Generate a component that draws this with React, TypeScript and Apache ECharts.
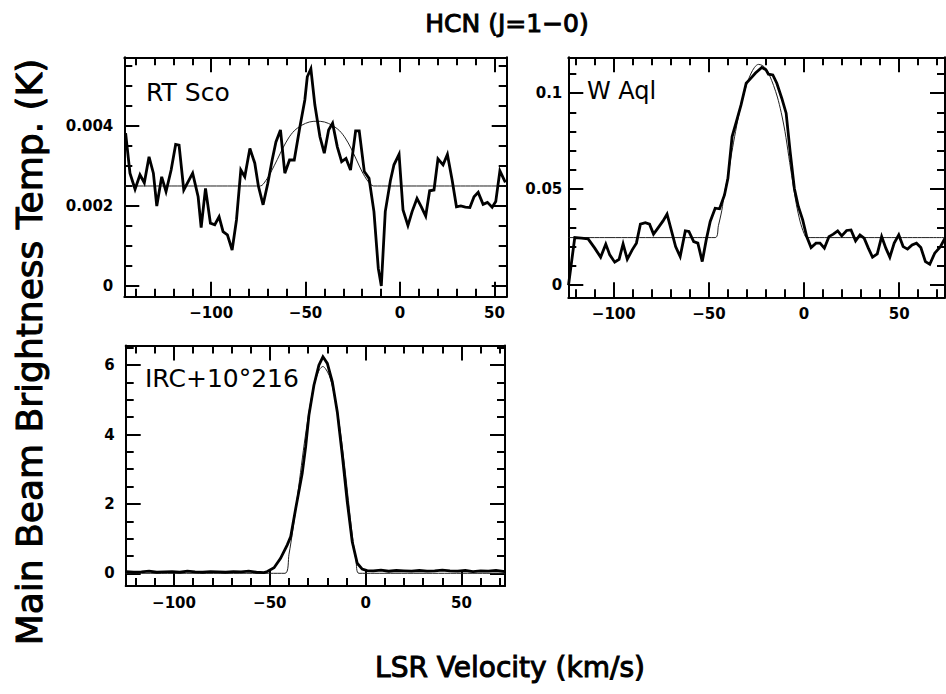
import React, { useEffect, useRef } from 'react';
import * as echarts from 'echarts';

// ---------- data ----------
const rtScoSpectrum: [number, number][] = [
  [-145.3, 0.00382], [-143.0, 0.00282], [-140.3, 0.00242], [-137.7, 0.00278], [-135.4, 0.00258],
  [-132.9, 0.00323], [-130.6, 0.00282], [-128.8, 0.002], [-126.2, 0.00273], [-123.9, 0.00236],
  [-121.2, 0.0029], [-118.8, 0.00354], [-117.0, 0.00352], [-114.5, 0.0024], [-109.8, 0.00282],
  [-106.9, 0.00223], [-105.3, 0.00146], [-103.0, 0.00244], [-100.4, 0.00157], [-98.1, 0.00153],
  [-95.8, 0.00173], [-93.7, 0.00136], [-91.4, 0.00128], [-88.9, 0.0009], [-86.6, 0.00165],
  [-84.3, 0.0029], [-82.2, 0.00273], [-79.5, 0.00344], [-76.9, 0.00307], [-75.0, 0.0025],
  [-72.5, 0.00203], [-70.0, 0.00257], [-67.7, 0.00315], [-65.7, 0.0036], [-63.3, 0.0039],
  [-61.0, 0.00282], [-58.5, 0.00315], [-56.0, 0.00315], [-53.0, 0.00398], [-50.4, 0.00465],
  [-49.1, 0.00523], [-47.2, 0.00543], [-45.1, 0.00453], [-42.4, 0.00373], [-40.1, 0.00332],
  [-37.8, 0.0039], [-35.7, 0.00407], [-33.2, 0.00348], [-30.9, 0.00311], [-28.6, 0.00319],
  [-26.2, 0.0029], [-23.5, 0.00388], [-21.6, 0.00388], [-18.9, 0.00286], [-16.4, 0.00269],
  [-13.8, 0.00186], [-11.5, 0.00044], [-9.9, 0.0], [-7.8, 0.00186], [-5.1, 0.00263],
  [-3.2, 0.00303], [-0.5, 0.00329], [1.6, 0.0019], [4.2, 0.00151], [6.4, 0.00186],
  [9.0, 0.00219], [11.3, 0.00198], [13.6, 0.00175], [15.7, 0.00238], [18.0, 0.0024],
  [20.1, 0.00318], [22.8, 0.00303], [25.1, 0.00329], [27.6, 0.00265], [29.9, 0.00198],
  [32.2, 0.002], [34.6, 0.00197], [37.0, 0.00196], [39.2, 0.00223], [41.4, 0.00234],
  [44.0, 0.00204], [46.3, 0.00209], [48.8, 0.00197], [50.7, 0.00211], [52.9, 0.00288],
  [55.8, 0.00259],
];
const rtScoFit: [number, number][] = [
  [-146, 0.0025], [-74, 0.0025], [-71, 0.00264], [-68, 0.00288], [-65, 0.00316], [-62, 0.00345],
  [-59, 0.0037], [-56, 0.00388], [-52, 0.00402], [-48, 0.0041], [-44, 0.00412], [-40, 0.0041],
  [-36, 0.00402], [-32, 0.00388], [-29, 0.0037], [-26, 0.00345], [-23, 0.00315], [-20, 0.00285],
  [-17, 0.00262], [-14, 0.0025], [56.6, 0.0025],
];

const wAqlSpectrum: [number, number][] = [
  [-123.8, 0], [-120.5, 0.0248], [-117.0, 0.0245], [-113.5, 0.0241], [-110.0, 0.0193], [-106.9, 0.0146],
  [-104.2, 0.0214], [-102.1, 0.0158], [-99.5, 0.012], [-97.2, 0.0135], [-95.1, 0.0215], [-92.9, 0.0135],
  [-90.3, 0.0184], [-88.1, 0.0219], [-86.0, 0.0318], [-83.4, 0.0326], [-81.2, 0.0318], [-79.1, 0.0266],
  [-76.8, 0.0297], [-74.1, 0.0335], [-72.0, 0.037], [-69.8, 0.0288], [-67.5, 0.0201], [-65.1, 0.0149],
  [-62.4, 0.0283], [-60.5, 0.028], [-58.0, 0.0227], [-55.8, 0.0219], [-53.5, 0.0123], [-51.4, 0.0236],
  [-49.3, 0.0332], [-46.7, 0.0401], [-44.4, 0.0398], [-41.8, 0.047], [-40.0, 0.0557], [-37.8, 0.0774],
  [-35.3, 0.0861], [-33.1, 0.0939], [-30.4, 0.1052], [-28.0, 0.1077], [-25.5, 0.1105], [-22.2, 0.1134],
  [-20.0, 0.1122], [-18.7, 0.1099], [-16.4, 0.1095], [-14.3, 0.1052], [-11.7, 0.0974], [-9.4, 0.0896],
  [-7.3, 0.0696], [-5.1, 0.0505], [-3.0, 0.041], [-0.7, 0.034], [1.4, 0.0253], [3.7, 0.0196],
  [6.3, 0.0219], [8.4, 0.0219], [10.7, 0.0193], [13.1, 0.0253], [15.4, 0.0266], [17.7, 0.0283],
  [19.8, 0.0257], [22.4, 0.0285], [24.7, 0.0288], [27.1, 0.0231], [29.4, 0.0262], [31.6, 0.0245],
  [33.8, 0.0193], [36.0, 0.0146], [38.5, 0.0163], [40.8, 0.0253], [43.0, 0.0193], [45.1, 0.0146],
  [47.4, 0.0219], [49.8, 0.0262], [52.1, 0.0201], [54.4, 0.0188], [56.8, 0.021], [59.1, 0.0219],
  [61.4, 0.0196], [63.8, 0.0123], [66.1, 0.0109], [68.7, 0.0167], [71.7, 0.0201], [74.5, 0.0253],
];
const wAqlFit: [number, number][] = [
  [-123.9, 0.0248], [-46.7, 0.0248], [-45, 0.031], [-43.2, 0.039], [-42, 0.047], [-40, 0.057],
  [-38, 0.069], [-36, 0.08], [-34, 0.09], [-32, 0.098], [-30, 0.105], [-28, 0.11], [-26, 0.1135],
  [-24, 0.115], [-22, 0.1145], [-20, 0.1128], [-18, 0.109], [-16, 0.104], [-14, 0.098], [-12, 0.09],
  [-10, 0.08], [-8, 0.067], [-6, 0.054], [-4, 0.042], [-2, 0.033], [0, 0.027], [1.5, 0.0248],
  [74.5, 0.0248],
];

const ircSpectrum: [number, number][] = [
  [-125, 0.05], [-121, 0.03], [-117, 0.04], [-113, 0.06], [-109, 0.03], [-105, 0.04], [-101, 0.05],
  [-97, 0.03], [-93, 0.06], [-89, 0.04], [-85, 0.03], [-81, 0.05], [-77, 0.04], [-73, 0.03],
  [-69, 0.05], [-65, 0.04], [-61, 0.06], [-57, 0.03], [-53, 0.02], [-51.3, 0.05], [-47.8, 0.16],
  [-44.4, 0.43], [-40.9, 0.82], [-39.1, 1.06], [-36.5, 1.87], [-33.1, 2.88], [-31.3, 3.65],
  [-29.6, 4.56], [-27.0, 5.42], [-24.4, 6.0], [-22.3, 6.24], [-20.0, 6.05], [-17.4, 5.52],
  [-14.8, 4.65], [-12.2, 3.41], [-9.6, 2.06], [-7.0, 0.91], [-4.4, 0.29], [-1.8, 0.12], [0.8, 0.08],
  [4, 0.07], [8, 0.09], [12, 0.06], [16, 0.08], [20, 0.07], [24, 0.06], [28, 0.08], [32, 0.06],
  [36, 0.07], [40, 0.09], [44, 0.07], [48, 0.06], [52, 0.08], [56, 0.05], [60, 0.07], [64, 0.06],
  [68, 0.08], [72.7, 0.05],
];
const ircFit: [number, number][] = [
  [-125.2, 0], [-42.1, 0], [-40, 0.55], [-38, 1.25], [-36, 2.05], [-34, 2.9], [-32, 3.75], [-30, 4.5],
  [-28, 5.15], [-26, 5.6], [-24, 5.88], [-22.3, 5.96], [-21, 5.9], [-19, 5.7], [-17, 5.3], [-15, 4.75],
  [-13, 4.0], [-11, 3.1], [-9, 2.1], [-7, 1.1], [-5, 0.35], [-3.5, 0], [72.7, 0],
];

const velocityTicks = [-100, -50, 0, 50];
const rtScoYTicks = [0, 0.002, 0.004];
const wAqlYTicks = [0, 0.05, 0.1];
const ircYTicks = [0, 2, 4, 6];

const panelNames = ['RT Sco', 'W Aql', 'IRC+10\u00b0216'];
const chartTitle = 'HCN (J=1\u22120)';
const xTitle = 'LSR Velocity (km/s)';
const yTitle = 'Main Beam Brightness Temp. (K)';

// ---------- helpers ----------
function steps(a: number, b: number, s: number): number[] {
  const out: number[] = [];
  const n = Math.round((b - a) / s);
  for (let i = 0; i <= n; i++) out.push(Math.round((a + i * s) * 1e7) / 1e7);
  return out;
}
const fmt = (v: number) => (v < 0 ? '\u2212' + String(Math.abs(v)) : String(v));

interface Panel {
  grid: { left: number; top: number; width: number; height: number };
  x: [number, number];
  y: [number, number];
  xMajor: number[];
  xMinor: number[];
  yMajor: number[];
  yMinor: number[];
  yMargin: number;
  xMargin: number;
  spectrum: [number, number][];
  fit: [number, number][];
}

const panels: Panel[] = [
  {
    grid: { left: 124.3, top: 57.3, width: 382.4, height: 239.4 },
    x: [-146.0, 56.5], y: [-0.000268, 0.0057175],
    xMajor: velocityTicks, xMinor: steps(-140, 50, 10),
    yMajor: rtScoYTicks, yMinor: steps(0, 0.0055, 0.0005),
    yMargin: 11, xMargin: 9, spectrum: rtScoSpectrum, fit: rtScoFit,
  },
  {
    grid: { left: 568.3, top: 57.3, width: 376.7, height: 240 },
    x: [-123.9, 74.1], y: [-0.0063, 0.1187],
    xMajor: velocityTicks, xMinor: steps(-120, 70, 10),
    yMajor: wAqlYTicks, yMinor: steps(0, 0.11, 0.01),
    yMargin: 6, xMargin: 9, spectrum: wAqlSpectrum, fit: wAqlFit,
  },
  {
    grid: { left: 125.7, top: 345.5, width: 379.3, height: 240.5 },
    x: [-125.2, 72.7], y: [-0.366, 6.565],
    xMajor: velocityTicks, xMinor: steps(-120, 70, 10),
    yMajor: ircYTicks, yMinor: steps(0, 6.5, 0.5),
    yMargin: 11, xMargin: 9, spectrum: ircSpectrum, fit: ircFit,
  },
];

const FONT = 'DejaVu Sans';
const labelStyle = { color: '#000', fontFamily: FONT, fontWeight: 'bold' as const, fontSize: 15 };
const frameLine = { color: '#000', width: 2 };

function makeAxes(kind: 'x' | 'y', gi: number, p: Panel) {
  const range = kind === 'x' ? p.x : p.y;
  const major = kind === 'x' ? p.xMajor : p.yMajor;
  const minor = kind === 'x' ? p.xMinor : p.yMinor;
  const positions = kind === 'x' ? ['bottom', 'top'] : ['left', 'right'];
  const base = { type: 'value', gridIndex: gi, min: range[0], max: range[1], splitLine: { show: false } };
  const axes: any[] = [];
  positions.forEach((pos, k) => {
    axes.push({
      ...base, position: pos,
      axisLine: { show: true, onZero: false, lineStyle: frameLine },
      axisTick: { show: true, inside: true, length: 15, customValues: major, lineStyle: frameLine },
      axisLabel: k === 0
        ? { show: true, customValues: major, formatter: fmt, margin: kind === 'x' ? p.xMargin : p.yMargin, ...labelStyle }
        : { show: false },
    });
    axes.push({
      ...base, position: pos,
      axisLine: { show: false, onZero: false },
      axisTick: { show: true, inside: true, length: 8, customValues: minor, lineStyle: frameLine },
      axisLabel: { show: false },
    });
  });
  return axes;
}

export default function App() {
  const ref = useRef<HTMLDivElement>(null);
  useEffect(() => {
    if (!ref.current) return;
    const chart = echarts.init(ref.current, undefined, { renderer: 'svg' });
    const xAxis: any[] = [];
    const yAxis: any[] = [];
    const series: any[] = [];
    panels.forEach((p, gi) => {
      xAxis.push(...makeAxes('x', gi, p));
      yAxis.push(...makeAxes('y', gi, p));
      series.push({
        type: 'line', xAxisIndex: gi * 4, yAxisIndex: gi * 4, data: p.fit,
        showSymbol: false, smooth: 0.3, lineStyle: { color: '#222', width: 1 }, z: 2,
      });
      series.push({
        type: 'line', xAxisIndex: gi * 4, yAxisIndex: gi * 4, data: p.spectrum,
        showSymbol: false, lineStyle: { color: '#000', width: 2.8, join: 'miter' }, z: 3,
      });
    });
    const thick = { stroke: '#000', lineWidth: 1 };
    chart.setOption({
      animation: false,
      backgroundColor: '#fff',
      grid: panels.map((p) => ({ ...p.grid, containLabel: false })),
      xAxis, yAxis, series,
      graphic: [
        { type: 'text', x: 507, y: 23, style: { text: chartTitle, fontFamily: FONT, fontSize: 25, fill: '#000', align: 'center', verticalAlign: 'middle', ...thick } },
        { type: 'text', x: 510, y: 667, style: { text: xTitle, fontFamily: FONT, fontSize: 28, fill: '#000', align: 'center', verticalAlign: 'middle', ...thick } },
        { type: 'text', x: 29, y: 352, rotation: Math.PI / 2, style: { text: yTitle, fontFamily: FONT, fontSize: 36, fill: '#000', align: 'center', verticalAlign: 'middle', ...thick } },
        { type: 'text', x: 146, y: 92.5, style: { text: panelNames[0], fontFamily: FONT, fontSize: 25, fill: '#000', align: 'left', verticalAlign: 'middle' } },
        { type: 'text', x: 587, y: 90.5, style: { text: panelNames[1], fontFamily: FONT, fontSize: 24, fill: '#000', align: 'left', verticalAlign: 'middle' } },
        { type: 'text', x: 145, y: 378, style: { text: panelNames[2], fontFamily: FONT, fontSize: 25, fill: '#000', align: 'left', verticalAlign: 'middle' } },
      ],
    });
    return () => chart.dispose();
  }, []);
  return <div ref={ref} style={{ position: 'absolute', left: 0, top: 0, width: 946, height: 694 }} />;
}
